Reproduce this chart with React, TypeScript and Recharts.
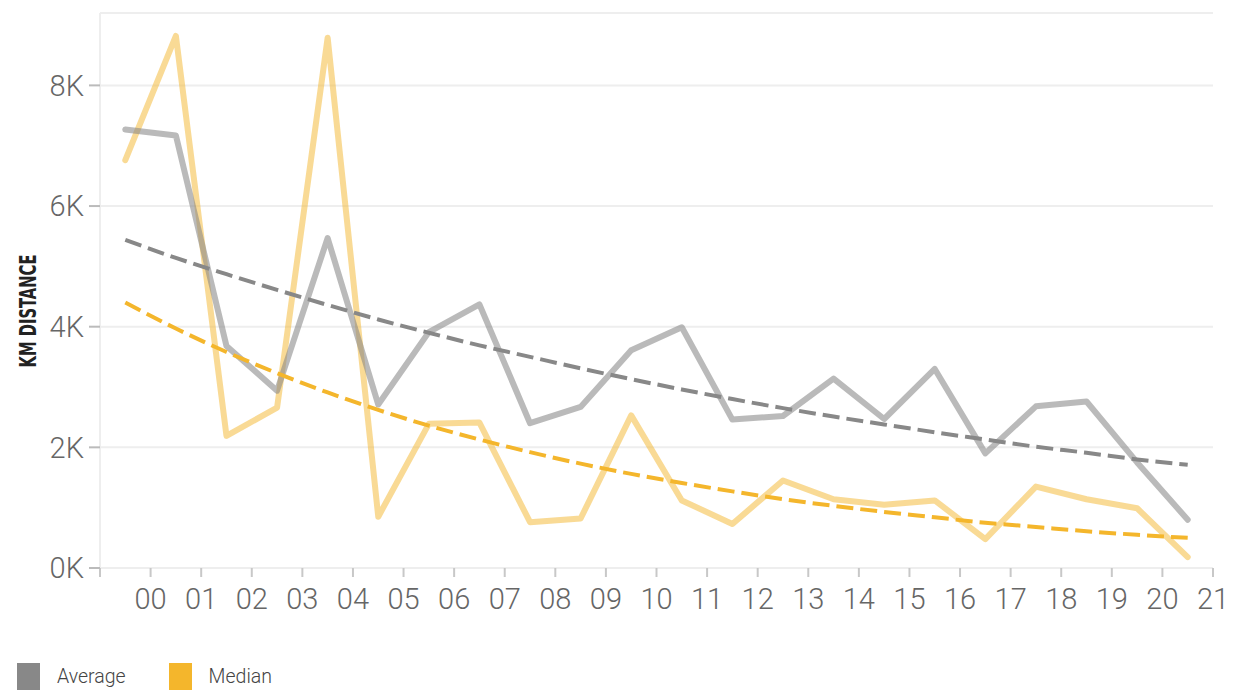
import { Label, Legend, CartesianGrid, Line, LineChart, XAxis, YAxis } from "recharts";

// x positions of the hourly points (they sit between the hour ticks)
const hourPos = [
  -0.5, 0.5, 1.5, 2.5, 3.5, 4.5, 5.5, 6.5, 7.5, 8.5, 9.5, 10.5, 11.5, 12.5, 13.5, 14.5, 15.5, 16.5,
  17.5, 18.5, 19.5, 20.5,
];
const averageKm = [
  7270, 7170, 3680, 2940, 5470, 2710, 3910, 4370, 2400, 2670, 3610, 3990, 2460, 2520, 3140, 2470,
  3300, 1900, 2680, 2760, 1750, 800,
];
const medianKm = [
  6760, 8820, 2190, 2660, 8790, 850, 2390, 2410, 760, 820, 2530, 1120, 730, 1450, 1140, 1050, 1120,
  480, 1350, 1140, 990, 180,
];
const averageTrend = [
  5440, 5140, 4870, 4610, 4360, 4120, 3900, 3690, 3500, 3310, 3130, 2960, 2800, 2650, 2510, 2380,
  2250, 2130, 2010, 1910, 1800, 1710,
];
const medianTrend = [
  4400, 3970, 3580, 3230, 2910, 2620, 2360, 2130, 1920, 1730, 1560, 1410, 1270, 1140, 1030, 930, 840,
  750, 680, 610, 550, 500,
];

const xTicks = [-1, 0, 1, 2, 3, 4, 5, 6, 7, 8, 9, 10, 11, 12, 13, 14, 15, 16, 17, 18, 19, 20, 21];
const xTickLabels = [
  "", "00", "01", "02", "03", "04", "05", "06", "07", "08", "09", "10", "11", "12", "13", "14", "15",
  "16", "17", "18", "19", "20", "21",
];
const yTicks = [0, 2000, 4000, 6000, 8000];

const GREY = "#888888";
const GOLD = "#f4b62c";

const data = hourPos.map((h, i) => ({
  h,
  average: averageKm[i],
  median: medianKm[i],
  averageTrend: averageTrend[i],
  medianTrend: medianTrend[i],
}));

const tickFont = { fontFamily: "Roboto", fontWeight: 300, fontSize: 29, fill: "#666" };

function LegendRow({ payload }: any) {
  const items = (payload || []).filter((p: any) => p.type !== "none");
  return (
    <div style={{ display: "flex", height: 27, alignItems: "center", paddingLeft: 17 }}>
      {items.map((p: any) => (
        <div key={p.value} style={{ display: "flex", alignItems: "center", marginRight: 43 }}>
          <span style={{ width: 23, height: 27, background: p.color, display: "inline-block" }} />
          <span
            style={{
              marginLeft: 17,
              fontFamily: "Roboto",
              fontWeight: 300,
              fontSize: 19.5,
              color: "#444",
            }}
          >
            {p.value}
          </span>
        </div>
      ))}
    </div>
  );
}

export default function App() {
  return (
    <div style={{ position: "absolute", left: 0, top: 0, width: 1237, height: 690, background: "#fff" }}>
      <LineChart width={1237} height={690} data={data} margin={{ top: 13, right: 24, left: 0, bottom: 0 }}>
        <CartesianGrid horizontal vertical={false} stroke="#eeeeee" strokeWidth={2} />
        <XAxis
          dataKey="h"
          type="number"
          domain={[-1, 21]}
          ticks={xTicks}
          interval={0}
          tickFormatter={(v) => xTickLabels[xTicks.indexOf(v)] ?? ""}
          tick={tickFont}
          axisLine={{ stroke: "#eeeeee", strokeWidth: 2 }}
          tickLine={{ stroke: "#c8c8c8", strokeWidth: 2 }}
          tickSize={9}
          tickMargin={11}
          height={95}
        />
        <YAxis
          domain={[0, 9200]}
          ticks={yTicks}
          interval={0}
          tickFormatter={(v) => `${v / 1000}K`}
          tick={tickFont}
          axisLine={{ stroke: "#eeeeee", strokeWidth: 2 }}
          tickLine={{ stroke: "#bbbbbb", strokeWidth: 2 }}
          tickSize={11}
          tickMargin={5}
          width={100}
        >
          <Label
            content={() => (
              <text
                x={28}
                y={311}
                transform="rotate(-90 28 311)"
                textAnchor="middle"
                dominantBaseline="central"
                textLength={113}
                lengthAdjust="spacingAndGlyphs"
                style={{
                  fontFamily: "'DejaVu Sans Condensed', 'DejaVu Sans', sans-serif",
                  fontWeight: 700,
                  fontSize: 23,
                  fill: "#222",
                }}
              >
                KM DISTANCE
              </text>
            )}
          />
        </YAxis>
        <Legend verticalAlign="bottom" align="left" content={<LegendRow />} />
        <Line
          dataKey="median"
          name="Median"
          stroke={GOLD}
          strokeOpacity={0.5}
          strokeWidth={6}
          strokeLinecap="round"
          strokeLinejoin="round"
          dot={false}
          activeDot={false}
          isAnimationActive={false}
        />
        <Line
          dataKey="average"
          name="Average"
          stroke={GREY}
          strokeOpacity={0.58}
          strokeWidth={6}
          strokeLinecap="round"
          strokeLinejoin="round"
          dot={false}
          activeDot={false}
          isAnimationActive={false}
        />
        <Line
          dataKey="averageTrend"
          type="monotone"
          stroke={GREY}
          strokeWidth={4}
          strokeDasharray="17 7"
          dot={false}
          activeDot={false}
          legendType="none"
          isAnimationActive={false}
        />
        <Line
          dataKey="medianTrend"
          type="monotone"
          stroke={GOLD}
          strokeWidth={4}
          strokeDasharray="17 7"
          dot={false}
          activeDot={false}
          legendType="none"
          isAnimationActive={false}
        />
      </LineChart>
    </div>
  );
}
